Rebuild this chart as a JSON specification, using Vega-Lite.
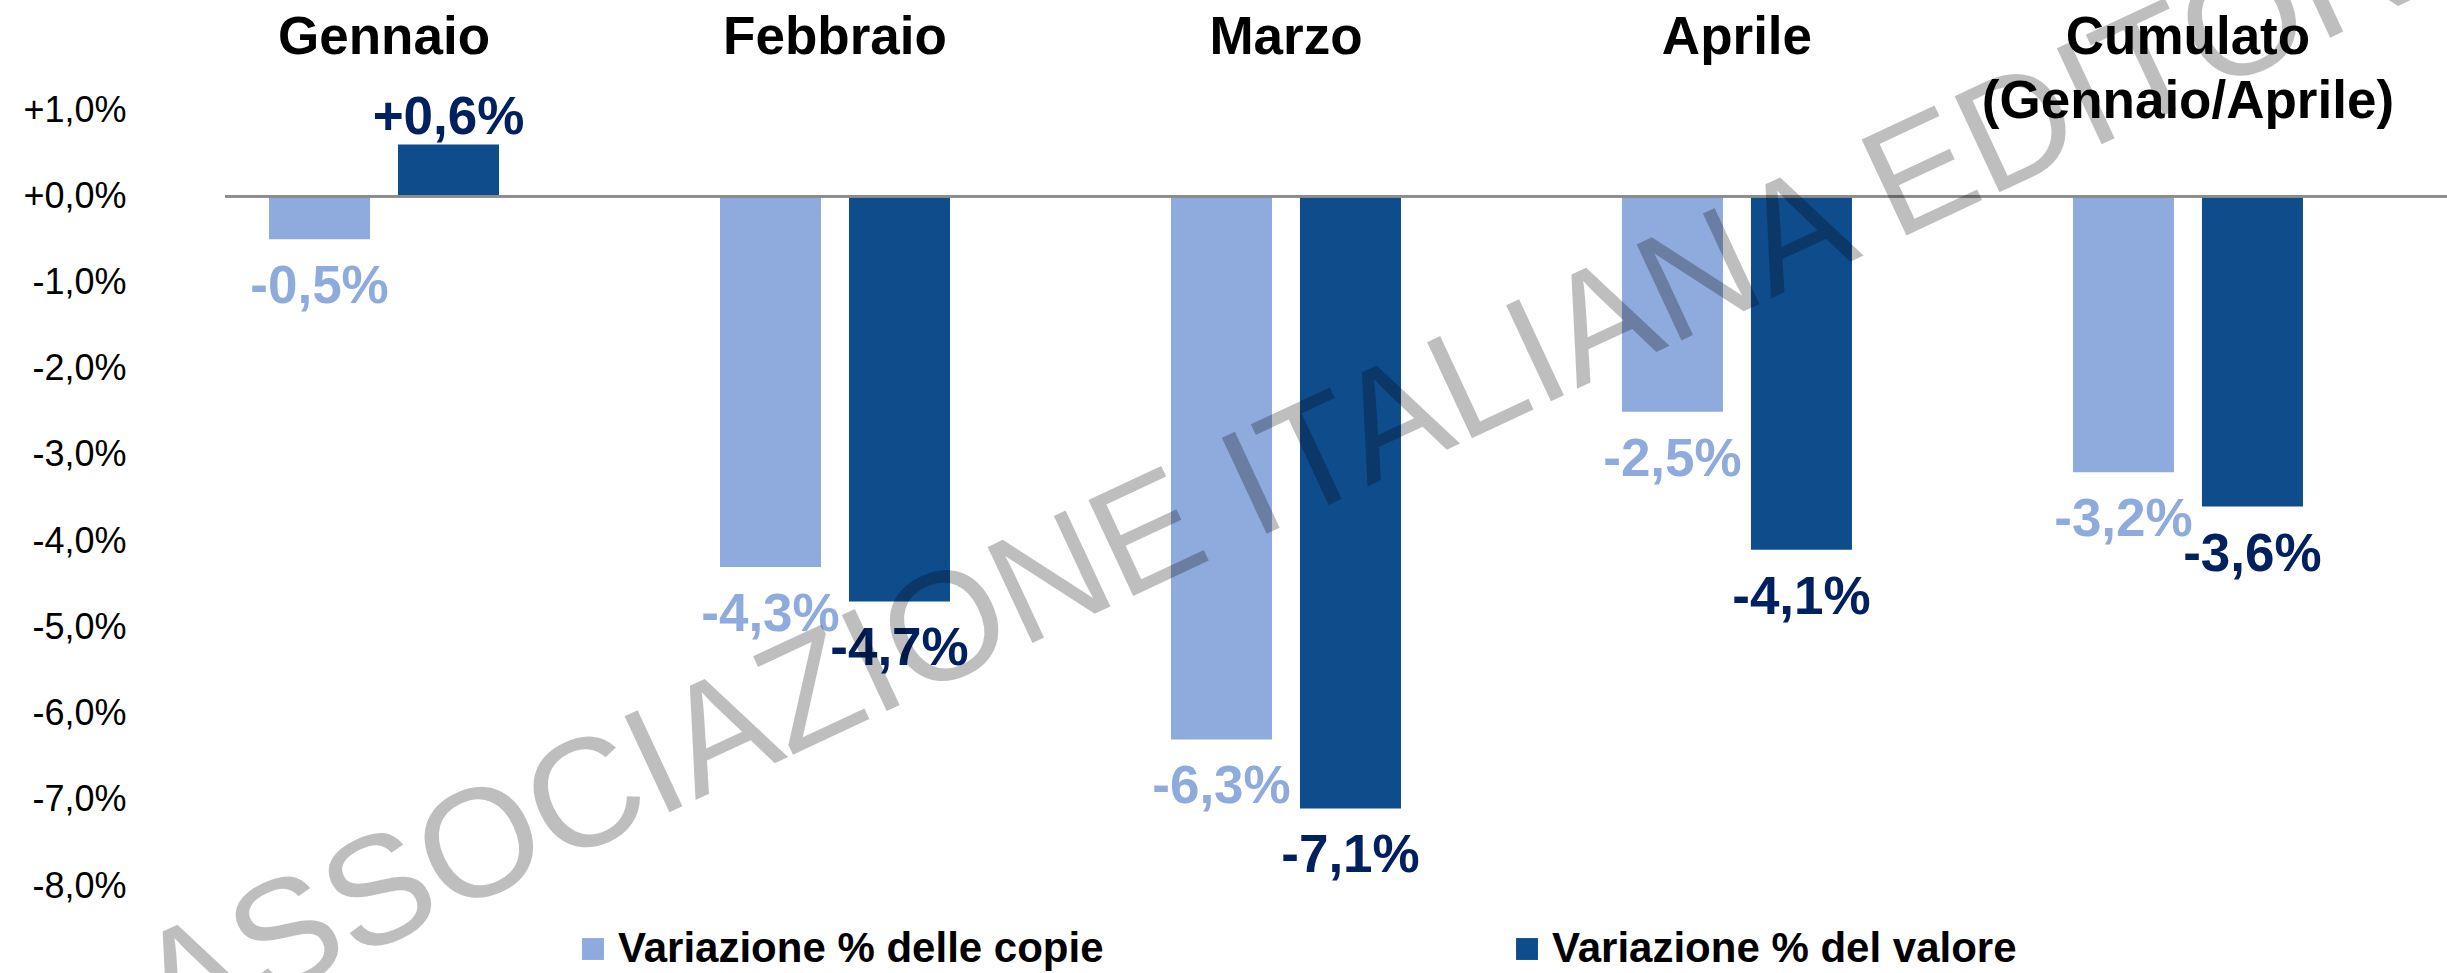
{
  "$schema": "https://vega.github.io/schema/vega-lite/v6.json",
  "autosize": {"type": "none"},
  "padding": {"left": 225, "top": 110, "right": 0, "bottom": 87},
  "width": 2222,
  "height": 776,
  "background": "white",
  "config": {
    "view": {"stroke": null},
    "font": "Liberation Sans"
  },
  "data": {
    "values": [
      {"mese": "Gennaio", "serie": "Variazione % delle copie", "valore": -0.5, "etichetta": "-0,5%"},
      {"mese": "Gennaio", "serie": "Variazione % del valore", "valore": 0.6, "etichetta": "+0,6%"},
      {"mese": "Febbraio", "serie": "Variazione % delle copie", "valore": -4.3, "etichetta": "-4,3%"},
      {"mese": "Febbraio", "serie": "Variazione % del valore", "valore": -4.7, "etichetta": "-4,7%"},
      {"mese": "Marzo", "serie": "Variazione % delle copie", "valore": -6.3, "etichetta": "-6,3%"},
      {"mese": "Marzo", "serie": "Variazione % del valore", "valore": -7.1, "etichetta": "-7,1%"},
      {"mese": "Aprile", "serie": "Variazione % delle copie", "valore": -2.5, "etichetta": "-2,5%"},
      {"mese": "Aprile", "serie": "Variazione % del valore", "valore": -4.1, "etichetta": "-4,1%"},
      {"mese": "Cumulato (Gennaio/Aprile)", "serie": "Variazione % delle copie", "valore": -3.2, "etichetta": "-3,2%"},
      {"mese": "Cumulato (Gennaio/Aprile)", "serie": "Variazione % del valore", "valore": -3.6, "etichetta": "-3,6%"}
    ]
  },
  "encoding": {
    "x": {
      "field": "mese",
      "type": "nominal",
      "scale": {
        "domain": ["Gennaio", "Febbraio", "Marzo", "Aprile", "Cumulato (Gennaio/Aprile)"],
        "paddingInner": 0.49,
        "paddingOuter": 0.2085,
        "align": 0.234
      },
      "axis": {
        "orient": "top",
        "title": null,
        "domain": false,
        "ticks": false,
        "tickSize": 0,
        "grid": false,
        "labelAngle": 0,
        "labelFont": "Liberation Sans",
        "labelFontSize": 53,
        "labelFontWeight": "bold",
        "labelColor": "black",
        "labelBaseline": "alphabetic",
        "labelPadding": 57,
        "labelLineHeight": 64,
        "labelLimit": 0,
        "labelOverlap": false,
        "labelExpr": "datum.value == 'Cumulato (Gennaio/Aprile)' ? ['Cumulato', '(Gennaio/Aprile)'] : datum.label"
      }
    },
    "y": {
      "field": "valore",
      "type": "quantitative",
      "scale": {"domain": [-8, 1], "nice": false, "zero": false},
      "axis": {
        "title": null,
        "values": [-8, -7, -6, -5, -4, -3, -2, -1, 0, 1],
        "domain": false,
        "ticks": false,
        "tickSize": 0,
        "grid": false,
        "labelFont": "Liberation Sans",
        "labelFontSize": 36,
        "labelColor": "black",
        "labelPadding": 99,
        "labelExpr": "(datum.value >= 0 ? '+' : '-') + replace(format(abs(datum.value), '.1f'), '.', ',') + '%'"
      }
    }
  },
  "layer": [
    {
      "mark": {"type": "bar"},
      "encoding": {
        "xOffset": {
          "field": "serie",
          "type": "nominal",
          "scale": {
            "domain": ["Variazione % delle copie", "Variazione % del valore"],
            "paddingInner": 0.217,
            "paddingOuter": 0
          }
        },
        "color": {
          "field": "serie",
          "type": "nominal",
          "scale": {
            "domain": ["Variazione % delle copie", "Variazione % del valore"],
            "range": ["#8FAADC", "#0F4C8C"]
          },
          "legend": {
            "orient": "none",
            "legendX": 347,
            "legendY": 818,
            "direction": "horizontal",
            "columns": 2,
            "columnPadding": 402,
            "title": null,
            "padding": 0,
            "symbolType": "square",
            "symbolSize": 480,
            "symbolStrokeWidth": 0,
            "labelFont": "Liberation Sans",
            "labelFontSize": 42,
            "labelFontWeight": "bold",
            "labelColor": "black",
            "labelOffset": 4,
            "labelLimit": 0
          }
        }
      }
    },
    {
      "mark": {"type": "rule", "color": "#8C8C8C", "strokeWidth": 2},
      "encoding": {"y": {"datum": 0}, "x": null}
    },
    {
      "transform": [{"filter": "datum.valore < 0"}],
      "mark": {"type": "text", "baseline": "top", "align": "center", "dy": 22, "font": "Liberation Sans", "fontSize": 53, "fontWeight": "bold"},
      "encoding": {
        "xOffset": {"field": "serie", "type": "nominal", "scale": {"domain": ["Variazione % delle copie", "Variazione % del valore"], "paddingInner": 0.217, "paddingOuter": 0}},
        "text": {"field": "etichetta"},
        "fill": {"condition": {"test": "datum.serie == 'Variazione % del valore'", "value": "#002060"}, "value": "#8FAADC"}
      }
    },
    {
      "transform": [{"filter": "datum.valore >= 0"}],
      "mark": {"type": "text", "baseline": "alphabetic", "align": "center", "dy": -10, "font": "Liberation Sans", "fontSize": 53, "fontWeight": "bold"},
      "encoding": {
        "xOffset": {"field": "serie", "type": "nominal", "scale": {"domain": ["Variazione % delle copie", "Variazione % del valore"], "paddingInner": 0.217, "paddingOuter": 0}},
        "text": {"field": "etichetta"},
        "fill": {"condition": {"test": "datum.serie == 'Variazione % del valore'", "value": "#002060"}, "value": "#8FAADC"}
      }
    },
    {
      "data": {"values": [{"mese": "Marzo", "valore": -3.81, "testo": "ASSOCIAZIONE ITALIANA EDITORI"}]},
      "mark": {"type": "text", "angle": -25, "align": "center", "baseline": "alphabetic", "dx": 30, "font": "Liberation Sans", "fontSize": 154, "fill": "black", "opacity": 0.25},
      "encoding": {
        "text": {"field": "testo"}
      }
    }
  ]
}
